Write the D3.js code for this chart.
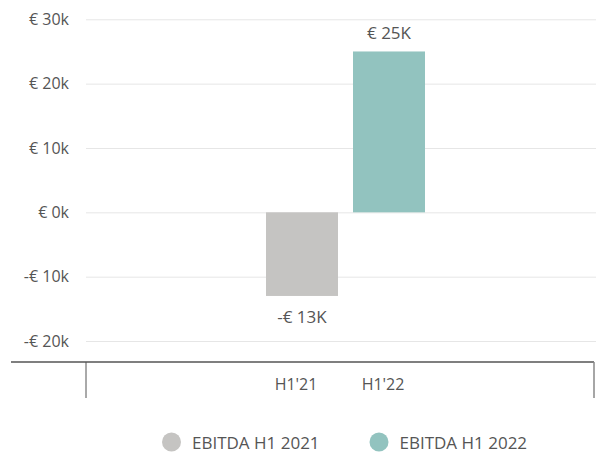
<!DOCTYPE html>
<html>
<head>
<meta charset="utf-8">
<script src="https://cdn.jsdelivr.net/npm/d3@7"></script>
<style>
  body { margin: 0; background: #fff; }
  text { font-family: "Open Sans", sans-serif; fill: #555; }
</style>
</head>
<body>
<script>
// chart data
var categories = ["H1'21", "H1'22"];
var series = ["EBITDA H1 2021", "EBITDA H1 2022"];
var values = [-13000, 25000];
var barLabels = ["-€ 13K", "€ 25K"];
var yTicks = [-20000, -10000, 0, 10000, 20000, 30000];
var colors = ["#c5c4c2", "#92c3bf"];

var width = 602, height = 454;

var svg = d3.select("body").append("svg")
    .attr("width", width)
    .attr("height", height);

// scales
var y = d3.scaleLinear().domain([-20000, 30000]).range([341, 19.3]);
var x = d3.scaleBand().domain(categories).range([266, 425])
    .paddingInner(15 / 87).paddingOuter(0);

// grid lines + y labels
var yAxis = svg.append("g")
    .attr("transform", "translate(86,0)")
    .call(d3.axisLeft(y).tickValues(yTicks).tickSize(-510).tickPadding(17)
      .tickFormat(function(d) { return (d < 0 ? "-€ " : "€ ") + Math.abs(d / 1000) + "k"; }));
yAxis.select(".domain").remove();
yAxis.selectAll("line").attr("stroke", "#e6e6e6");
yAxis.selectAll("text").attr("fill", "#555").style("font-size", "16px")
    .style("font-family", "'Open Sans', sans-serif");

// bars
svg.selectAll("rect.bar")
  .data(values)
  .enter().append("rect")
    .attr("class", "bar")
    .attr("x", function(d, i) { return x(categories[i]); })
    .attr("y", function(d) { return y(Math.max(0, d)); })
    .attr("width", x.bandwidth())
    .attr("height", function(d) { return Math.abs(y(d) - y(0)); })
    .attr("fill", function(d, i) { return colors[i]; });

// value labels
svg.selectAll("text.val")
  .data(values)
  .enter().append("text")
    .attr("class", "val")
    .attr("x", function(d, i) { return x(categories[i]) + x.bandwidth() / 2; })
    .attr("y", function(d) { return d >= 0 ? y(d) - 12 : y(d) + 27; })
    .attr("text-anchor", "middle")
    .style("font-size", "17px")
    .text(function(d, i) { return barLabels[i]; });

// bottom category box
svg.append("line").attr("x1", 11).attr("x2", 594).attr("y1", 362).attr("y2", 362)
    .attr("stroke", "#555").attr("stroke-width", 1.5);
svg.append("line").attr("x1", 86).attr("x2", 86).attr("y1", 362).attr("y2", 398)
    .attr("stroke", "#555").attr("stroke-width", 1);
svg.append("line").attr("x1", 594).attr("x2", 594).attr("y1", 362).attr("y2", 398)
    .attr("stroke", "#888").attr("stroke-width", 1.5);

svg.selectAll("text.cat")
  .data(categories)
  .enter().append("text")
    .attr("class", "cat")
    .attr("x", function(d) { return x(d) + x.bandwidth() / 2 - 6; })
    .attr("y", 390)
    .attr("text-anchor", "middle")
    .style("font-size", "16px")
    .text(function(d) { return d; });

// legend
var legendX = [171.5, 379];
var legend = svg.selectAll("g.legend")
  .data(series)
  .enter().append("g")
    .attr("class", "legend")
    .attr("transform", function(d, i) { return "translate(" + legendX[i] + ",442)"; });
legend.append("circle").attr("r", 9.5).attr("fill", function(d, i) { return colors[i]; });
legend.append("text").attr("x", 20.5).attr("y", 6.5)
    .style("font-size", "17px")
    .text(function(d) { return d; });
</script>
</body>
</html>
